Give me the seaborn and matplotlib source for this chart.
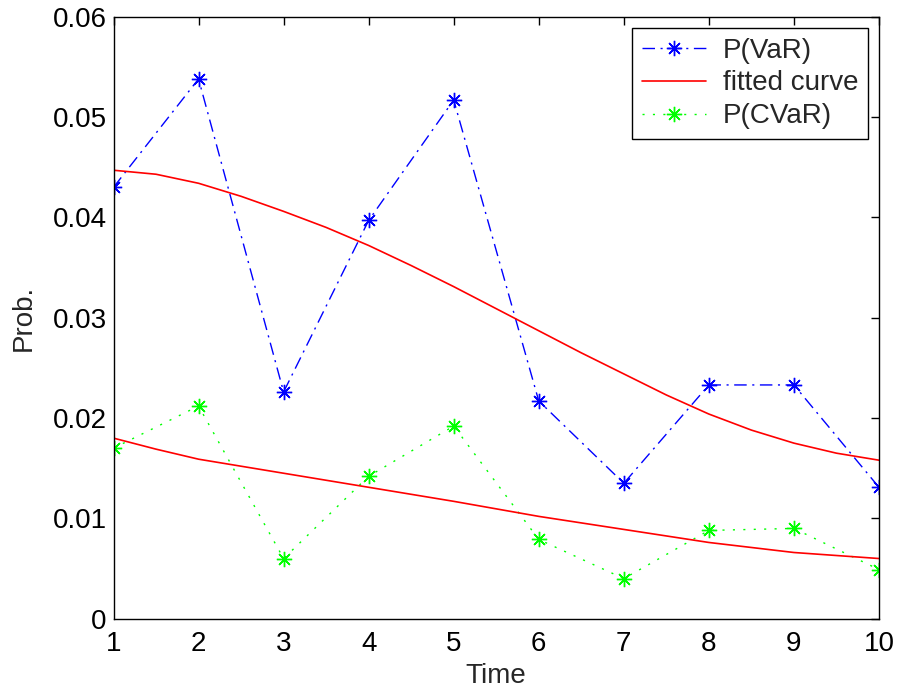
import matplotlib
matplotlib.use("Agg")
import matplotlib.pyplot as plt
import seaborn as sns
import pandas as pd

time = [1, 2, 3, 4, 5, 6, 7, 8, 9, 10]
p_var = [0.0430, 0.0538, 0.0226, 0.0397, 0.0517, 0.0217, 0.0135, 0.0233, 0.0233, 0.0131]
p_cvar = [0.0170, 0.0212, 0.0060, 0.0142, 0.0192, 0.0079, 0.0040, 0.0088, 0.0090, 0.0049]

fit_time = [1, 1.5, 2, 2.5, 3, 3.5, 4, 4.5, 5, 5.5, 6, 6.5, 7, 7.5, 8, 8.5, 9, 9.5, 10]
fit_var = [0.0447, 0.0443, 0.0434, 0.0421, 0.0406, 0.0390, 0.0372, 0.0352, 0.0331, 0.0309,
           0.0287, 0.0265, 0.0244, 0.0223, 0.0204, 0.0188, 0.0175, 0.0165, 0.0158]
fit_cvar_time = [1, 1.5, 2, 3, 4, 5, 6, 7, 8, 9, 10]
fit_cvar = [0.0180, 0.0169, 0.0159, 0.0145, 0.0131, 0.0117, 0.0102, 0.0089, 0.0076, 0.0066, 0.0060]

sns.set_style("white")
plt.rcParams['font.family'] = ['Liberation Sans', 'DejaVu Sans']

fig = plt.figure(figsize=(8.98, 6.91), dpi=100)
ax = fig.add_axes([0.1264, 0.1046, 0.8524, 0.8712])

star = (8, 2, 0)
df_var = pd.DataFrame({"t": time, "v": p_var})
df_cvar = pd.DataFrame({"t": time, "v": p_cvar})
df_fv = pd.DataFrame({"t": fit_time, "v": fit_var})
df_fc = pd.DataFrame({"t": fit_cvar_time, "v": fit_cvar})

sns.lineplot(data=df_var, x="t", y="v", ax=ax, color=(0, 0, 1), lw=1,
             linestyle=(0, (9, 4, 1.5, 4)), marker=star, markersize=11,
             markeredgewidth=1, markeredgecolor=(0, 0, 1), label="P(VaR)")
sns.lineplot(data=df_fv, x="t", y="v", ax=ax, color=(1, 0, 0), lw=1.2, label="fitted curve")
sns.lineplot(data=df_cvar, x="t", y="v", ax=ax, color=(0, 1, 0), lw=1,
             linestyle=(0, (1.5, 6)), marker=star, markersize=11,
             markeredgewidth=1, markeredgecolor=(0, 1, 0), label="P(CVaR)")
sns.lineplot(data=df_fc, x="t", y="v", ax=ax, color=(1, 0, 0), lw=1.2, label="_nolegend_")

ax.set_xlim(1, 10)
ax.set_ylim(0, 0.06)
ax.set_xticks(range(1, 11))
ax.set_yticks([0, 0.01, 0.02, 0.03, 0.04, 0.05, 0.06])
ax.set_yticklabels(["0", "0.01", "0.02", "0.03", "0.04", "0.05", "0.06"])
ax.tick_params(direction="in", length=6, width=1, labelsize=20, top=True, right=True,
               colors="black")
ax.tick_params(axis="x", pad=9)
ax.tick_params(axis="y", pad=5)
for s in ax.spines.values():
    s.set_color("black")
    s.set_linewidth(1)
ax.set_xlabel("Time", fontsize=20, labelpad=4)
ax.set_ylabel("Prob.", fontsize=20, labelpad=11)

leg = ax.legend(loc="upper right", fontsize=20, frameon=True, fancybox=False,
                edgecolor="black", framealpha=1, handlelength=2.3, borderaxespad=0.4,
                labelspacing=0.25, handletextpad=0.6, borderpad=0.35)
leg.get_frame().set_linewidth(1)

fig.savefig("out.png", dpi=100)
